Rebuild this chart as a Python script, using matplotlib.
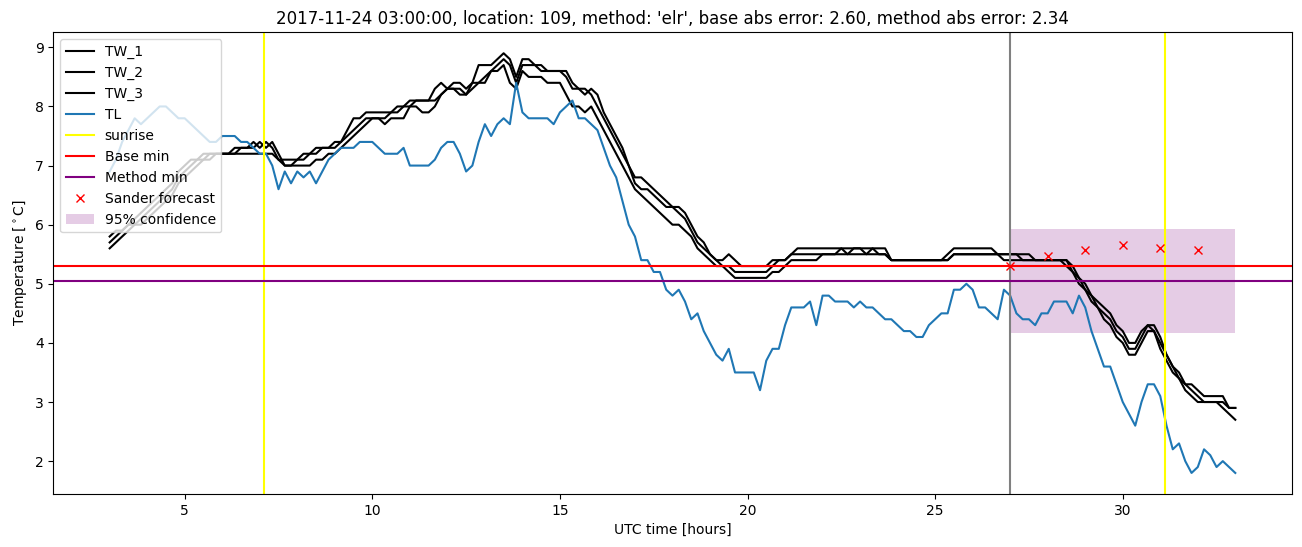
import numpy as np
import matplotlib
matplotlib.use("Agg")
import matplotlib.pyplot as plt

# 10 minute samples from 03:00 to 33:00 (hours since 2017-11-24 00:00 UTC)
time = np.linspace(3, 33, 181)

# air temperature
TL = [6.9, 7.1, 7.4, 7.6, 7.8, 7.7,
      7.8, 7.9, 8.0, 8.0, 7.9, 7.8,
      7.8, 7.7, 7.6, 7.5, 7.4, 7.4,
      7.5, 7.5, 7.5, 7.4, 7.4, 7.3,
      7.2, 7.2, 7.0, 6.6, 6.9, 6.7,
      6.9, 6.8, 6.9, 6.7, 6.9, 7.1,
      7.2, 7.3, 7.3, 7.3, 7.4, 7.4,
      7.4, 7.3, 7.2, 7.2, 7.2, 7.3,
      7.0, 7.0, 7.0, 7.0, 7.1, 7.3,
      7.4, 7.4, 7.2, 6.9, 7.0, 7.4,
      7.7, 7.5, 7.7, 7.8, 7.7, 8.4,
      7.9, 7.8, 7.8, 7.8, 7.8, 7.7,
      7.9, 8.0, 8.1, 7.8, 7.8, 7.7,
      7.6, 7.3, 7.0, 6.8, 6.4, 6.0,
      5.8, 5.4, 5.4, 5.2, 5.2, 4.9,
      4.8, 4.9, 4.7, 4.4, 4.5, 4.2,
      4.0, 3.8, 3.7, 3.9, 3.5, 3.5,
      3.5, 3.5, 3.2, 3.7, 3.9, 3.9,
      4.3, 4.6, 4.6, 4.6, 4.7, 4.3,
      4.8, 4.8, 4.7, 4.7, 4.7, 4.6,
      4.7, 4.6, 4.6, 4.5, 4.4, 4.4,
      4.3, 4.2, 4.2, 4.1, 4.1, 4.3,
      4.4, 4.5, 4.5, 4.9, 4.9, 5.0,
      4.9, 4.6, 4.6, 4.5, 4.4, 4.9,
      4.8, 4.5, 4.4, 4.4, 4.3, 4.5,
      4.5, 4.7, 4.7, 4.7, 4.5, 4.8,
      4.6, 4.2, 3.9, 3.6, 3.6, 3.3,
      3.0, 2.8, 2.6, 3.0, 3.3, 3.3,
      3.1, 2.6, 2.2, 2.3, 2.0, 1.8,
      1.9, 2.2, 2.1, 1.9, 2.0, 1.9,
      1.8]

# road surface temperatures
TW_1 = [5.8, 5.9, 5.9, 6.0, 6.1, 6.2,
        6.3, 6.4, 6.5, 6.6, 6.7, 6.9,
        7.0, 7.1, 7.1, 7.2, 7.2, 7.2,
        7.2, 7.2, 7.3, 7.3, 7.3, 7.4,
        7.3, 7.4, 7.3, 7.1, 7.1, 7.1,
        7.1, 7.2, 7.2, 7.3, 7.3, 7.3,
        7.4, 7.4, 7.6, 7.8, 7.8, 7.9,
        7.9, 7.9, 7.9, 7.9, 8.0, 8.0,
        8.1, 8.1, 8.1, 8.1, 8.3, 8.4,
        8.3, 8.4, 8.4, 8.3, 8.4, 8.7,
        8.7, 8.7, 8.8, 8.9, 8.8, 8.5,
        8.8, 8.8, 8.7, 8.7, 8.6, 8.6,
        8.6, 8.5, 8.3, 8.3, 8.2, 8.3,
        8.2, 7.9, 7.7, 7.5, 7.3, 7.0,
        6.8, 6.8, 6.7, 6.6, 6.5, 6.4,
        6.3, 6.3, 6.2, 6.0, 5.8, 5.7,
        5.5, 5.4, 5.4, 5.5, 5.4, 5.3,
        5.3, 5.3, 5.3, 5.3, 5.4, 5.4,
        5.4, 5.5, 5.6, 5.6, 5.6, 5.6,
        5.6, 5.6, 5.6, 5.6, 5.6, 5.6,
        5.6, 5.6, 5.6, 5.6, 5.6, 5.4,
        5.4, 5.4, 5.4, 5.4, 5.4, 5.4,
        5.4, 5.4, 5.5, 5.6, 5.6, 5.6,
        5.6, 5.6, 5.6, 5.6, 5.5, 5.5,
        5.5, 5.5, 5.5, 5.5, 5.4, 5.4,
        5.4, 5.4, 5.4, 5.4, 5.3, 5.1,
        5.0, 4.8, 4.7, 4.6, 4.5, 4.3,
        4.2, 4.0, 4.0, 4.2, 4.3, 4.3,
        4.1, 3.8, 3.6, 3.5, 3.3, 3.3,
        3.2, 3.1, 3.1, 3.1, 3.1, 2.9,
        2.9]

TW_2 = [5.7, 5.8, 5.9, 6.0, 6.0, 6.1,
        6.2, 6.3, 6.4, 6.5, 6.6, 6.8,
        6.9, 7.0, 7.1, 7.1, 7.2, 7.2,
        7.2, 7.2, 7.2, 7.3, 7.3, 7.3,
        7.4, 7.3, 7.4, 7.2, 7.0, 7.0,
        7.1, 7.1, 7.2, 7.2, 7.3, 7.3,
        7.3, 7.4, 7.5, 7.6, 7.7, 7.8,
        7.8, 7.8, 7.8, 7.9, 7.9, 8.0,
        8.0, 8.1, 8.1, 8.1, 8.1, 8.2,
        8.3, 8.3, 8.3, 8.2, 8.3, 8.4,
        8.5, 8.6, 8.7, 8.8, 8.7, 8.4,
        8.7, 8.7, 8.7, 8.6, 8.6, 8.6,
        8.6, 8.6, 8.4, 8.3, 8.3, 8.2,
        8.0, 7.8, 7.6, 7.4, 7.2, 7.0,
        6.7, 6.6, 6.6, 6.5, 6.4, 6.3,
        6.3, 6.2, 6.1, 5.9, 5.7, 5.6,
        5.5, 5.4, 5.3, 5.3, 5.2, 5.2,
        5.2, 5.2, 5.2, 5.2, 5.3, 5.4,
        5.4, 5.5, 5.5, 5.5, 5.5, 5.5,
        5.5, 5.5, 5.5, 5.6, 5.5, 5.6,
        5.6, 5.5, 5.6, 5.5, 5.5, 5.4,
        5.4, 5.4, 5.4, 5.4, 5.4, 5.4,
        5.4, 5.4, 5.4, 5.5, 5.5, 5.5,
        5.5, 5.5, 5.5, 5.5, 5.5, 5.5,
        5.5, 5.5, 5.4, 5.4, 5.4, 5.4,
        5.4, 5.4, 5.4, 5.4, 5.2, 5.1,
        4.9, 4.8, 4.6, 4.5, 4.4, 4.2,
        4.1, 3.9, 3.9, 4.1, 4.3, 4.2,
        4.0, 3.8, 3.6, 3.4, 3.3, 3.2,
        3.1, 3.0, 3.0, 3.0, 3.0, 2.9,
        2.9]

TW_3 = [5.6, 5.7, 5.8, 5.9, 6.0, 6.0,
        6.1, 6.2, 6.3, 6.4, 6.5, 6.7,
        6.8, 6.9, 7.0, 7.1, 7.1, 7.2,
        7.2, 7.2, 7.2, 7.2, 7.2, 7.2,
        7.2, 7.2, 7.2, 7.1, 7.0, 7.0,
        7.0, 7.0, 7.0, 7.1, 7.1, 7.2,
        7.2, 7.3, 7.4, 7.5, 7.6, 7.7,
        7.8, 7.8, 7.7, 7.8, 7.8, 7.8,
        8.0, 8.0, 7.9, 7.9, 8.0, 8.2,
        8.3, 8.3, 8.2, 8.2, 8.4, 8.4,
        8.4, 8.6, 8.6, 8.7, 8.4, 8.3,
        8.6, 8.5, 8.5, 8.5, 8.4, 8.4,
        8.4, 8.2, 8.0, 8.0, 7.9, 8.0,
        7.8, 7.6, 7.4, 7.2, 7.0, 6.8,
        6.6, 6.5, 6.4, 6.3, 6.2, 6.1,
        6.0, 6.0, 5.9, 5.8, 5.6, 5.5,
        5.4, 5.3, 5.3, 5.2, 5.1, 5.1,
        5.1, 5.1, 5.1, 5.1, 5.2, 5.2,
        5.3, 5.4, 5.4, 5.4, 5.4, 5.4,
        5.5, 5.5, 5.5, 5.5, 5.5, 5.5,
        5.5, 5.5, 5.5, 5.5, 5.5, 5.4,
        5.4, 5.4, 5.4, 5.4, 5.4, 5.4,
        5.4, 5.4, 5.4, 5.5, 5.5, 5.5,
        5.5, 5.5, 5.5, 5.5, 5.5, 5.4,
        5.4, 5.4, 5.4, 5.4, 5.4, 5.4,
        5.4, 5.4, 5.4, 5.3, 5.2, 5.0,
        4.9, 4.7, 4.6, 4.4, 4.3, 4.1,
        4.0, 3.8, 3.8, 4.0, 4.2, 4.2,
        3.9, 3.7, 3.5, 3.4, 3.2, 3.1,
        3.0, 3.0, 3.0, 3.0, 2.9, 2.8,
        2.7]

sunrise = [7.12, 31.13]
forecast_time = 27
base_min = 5.30
method_min = 5.04

# Sander forecast and its 95% confidence band
sander_time = [27, 28, 29, 30, 31, 32]
sander_value = [5.30, 5.47, 5.57, 5.65, 5.60, 5.57]
conf_time = [27, 33]
conf_low = 4.16
conf_high = 5.93

fig, ax = plt.subplots(figsize=(13.02, 5.47), dpi=100)
fig.subplots_adjust(left=0.041, right=0.992, bottom=0.097, top=0.941)

ax.plot(time, TW_1, color="black", label="TW_1")
ax.plot(time, TW_2, color="black", label="TW_2")
ax.plot(time, TW_3, color="black", label="TW_3")
ax.plot(time, TL, color="tab:blue", label="TL")
ax.axvline(sunrise[0], color="yellow", label="sunrise")
ax.axvline(sunrise[1], color="yellow")
ax.axvline(forecast_time, color="grey")
ax.axhline(base_min, color="red", label="Base min")
ax.axhline(method_min, color="purple", label="Method min")
ax.plot(sander_time, sander_value, "x", color="red", label="Sander forecast")
ax.fill_between(conf_time, conf_low, conf_high, color="purple", alpha=0.2,
                linewidth=0, label="95% confidence")

ax.set_xlabel("UTC time [hours]")
ax.set_ylabel("Temperature [$^\\circ$C]")
ax.set_title("2017-11-24 03:00:00, location: 109, method: 'elr', "
             "base abs error: 2.60, method abs error: 2.34")
ax.legend(loc="upper left")

fig.savefig("out.png", dpi=100)
